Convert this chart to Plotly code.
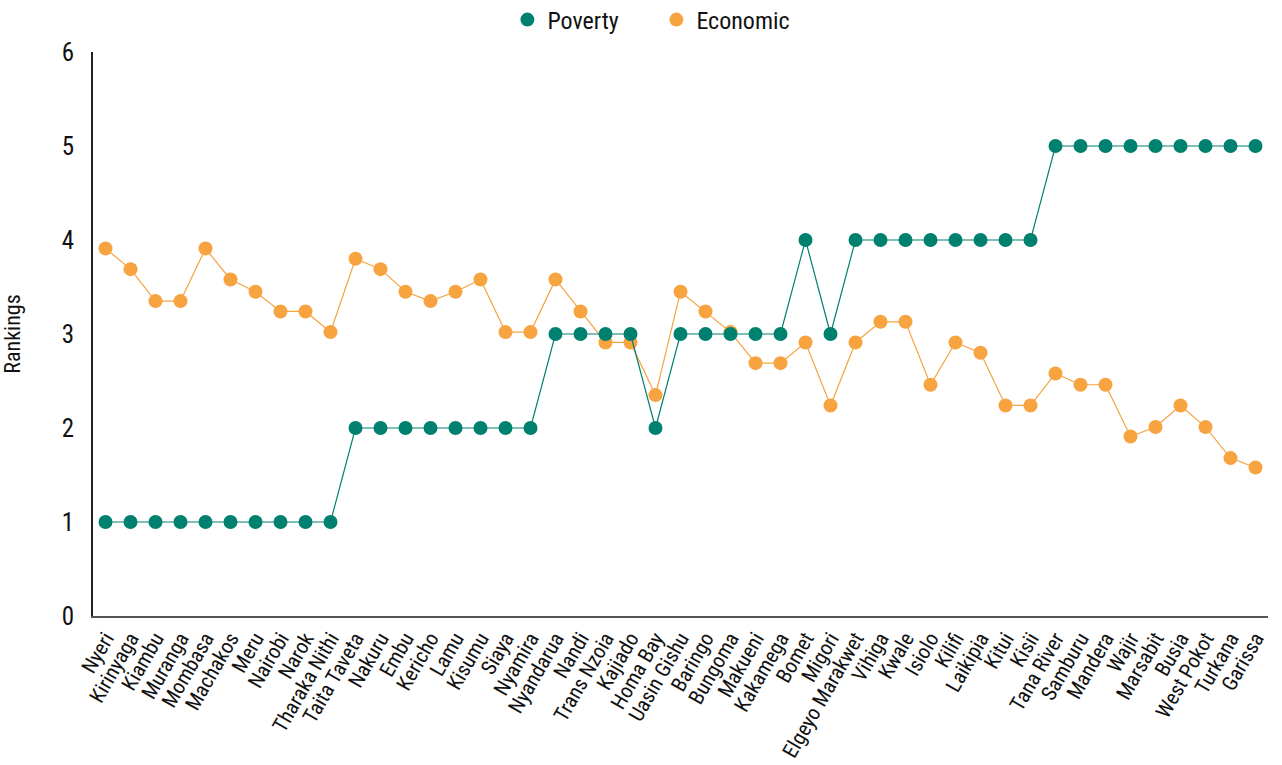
import plotly.graph_objects as go

counties = ["Nyeri", "Kirinyaga", "Kiambu", "Muranga", "Mombasa", "Machakos", "Meru", "Nairobi",
            "Narok", "Tharaka Nithi", "Taita Taveta", "Nakuru", "Embu", "Kericho", "Lamu", "Kisumu",
            "Siaya", "Nyamira", "Nyandarua", "Nandi", "Trans Nzoia", "Kajiado", "Homa Bay",
            "Uasin Gishu", "Baringo", "Bungoma", "Makueni", "Kakamega", "Bomet", "Migori",
            "Elgeyo Marakwet", "Vihiga", "Kwale", "Isiolo", "Kilifi", "Laikipia", "Kitui", "Kisii",
            "Tana River", "Samburu", "Mandera", "Wajir", "Marsabit", "Busia", "West Pokot",
            "Turkana", "Garissa"]

poverty = [1, 1, 1, 1, 1, 1, 1, 1, 1, 1,
           2, 2, 2, 2, 2, 2, 2, 2,
           3, 3, 3, 3, 2, 3, 3, 3, 3, 3, 4, 3,
           4, 4, 4, 4, 4, 4, 4, 4,
           5, 5, 5, 5, 5, 5, 5, 5, 5]

economic = [3.91, 3.69, 3.35, 3.35, 3.91, 3.58, 3.45, 3.24, 3.24, 3.02,
            3.80, 3.69, 3.45, 3.35, 3.45, 3.58, 3.02, 3.02, 3.58, 3.24,
            2.91, 2.91, 2.35, 3.45, 3.24, 3.02, 2.69, 2.69, 2.91, 2.24,
            2.91, 3.13, 3.13, 2.46, 2.91, 2.80, 2.24, 2.24, 2.58, 2.46,
            2.46, 1.91, 2.01, 2.24, 2.01, 1.68, 1.58]

y_ticks = [0, 1, 2, 3, 4, 5, 6]

TEAL = "#00806E"
ORANGE = "#F6A340"
FONT = "Liberation Sans Narrow, Roboto Condensed, Roboto, sans-serif"

fig = go.Figure()
# Economic drawn first so Poverty sits on top
fig.add_trace(go.Scatter(x=counties, y=economic, name="Economic", mode="lines",
                         line=dict(color=ORANGE, width=1.2), showlegend=False, hoverinfo="skip"))
fig.add_trace(go.Scatter(x=counties, y=economic, name="Economic", mode="markers",
                         marker=dict(color=ORANGE, size=14), legendrank=2))
fig.add_trace(go.Scatter(x=counties, y=poverty, name="Poverty", mode="lines",
                         line=dict(color=TEAL, width=1.2), showlegend=False, hoverinfo="skip"))
fig.add_trace(go.Scatter(x=counties, y=poverty, name="Poverty", mode="markers",
                         marker=dict(color=TEAL, size=14), legendrank=1))

fig.update_layout(
    width=1282, height=765,
    margin=dict(l=93, r=14, t=52, b=149),
    paper_bgcolor="white", plot_bgcolor="white",
    font=dict(family=FONT, color="#111111"),
    legend=dict(orientation="h", xref="container", yref="container",
                x=0.512, xanchor="center", y=1 - 20 / 765, yanchor="middle",
                font=dict(size=24), itemsizing="trace", itemwidth=30,
                entrywidthmode="pixels", entrywidth=104),
    xaxis=dict(type="category", range=[-0.5, len(counties) - 0.5], tickangle=-60,
               tickmode="array", tickvals=counties, ticktext=counties,
               showline=True, linecolor="#555555", linewidth=2, showgrid=False,
               tickfont=dict(size=21), ticks="", automargin=False),
    yaxis=dict(range=[0, 6], tickvals=y_ticks, showline=True, linecolor="#222222", linewidth=2,
               showgrid=False, zeroline=False, tickfont=dict(size=25), automargin=False,
               ticklabelstandoff=12,
               title=dict(text="Rankings", font=dict(size=22), standoff=40)),
)

fig.write_html("out.html", config={"displayModeBar": False},
               post_script="document.body.style.margin='0';")
